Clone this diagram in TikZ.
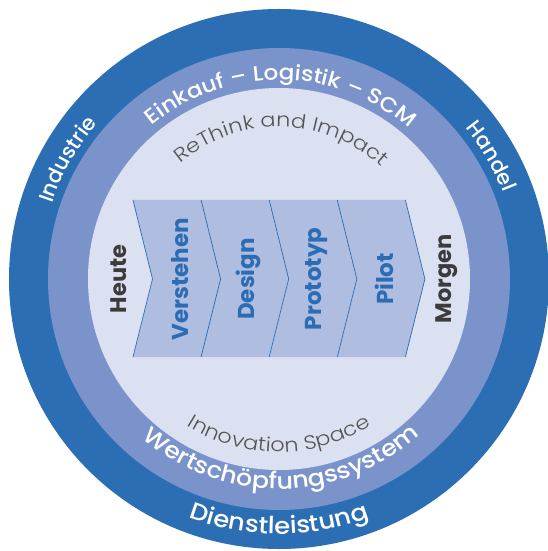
\documentclass[tikz,border=0pt]{standalone}
\usepackage{fontspec}
\setmainfont{Poppins}
\newfontfamily\plight{Poppins Light}[FakeStretch=1.15]
\newfontfamily\pmed{Poppins Medium}
\newfontfamily\pmedw{Poppins Medium}[FakeStretch=1.1]
\newfontfamily\pbold{Poppins Bold}
\usetikzlibrary{decorations.text}
\definecolor{outerblue}{HTML}{2B6EB4}
\definecolor{midblue}{HTML}{7B93CB}
\definecolor{innerblue}{HTML}{DCE1F1}
\definecolor{chevfill}{HTML}{AFBDE0}
\definecolor{textblue}{HTML}{2B6CB3}
\definecolor{labelgray}{HTML}{3B3B3B}
\definecolor{thingray}{HTML}{555555}
\tikzset{
  steplabel/.style={rotate=90, inner sep=0pt, text=textblue, font=\pbold\fontsize{23}{23}\selectfont},
  endlabel/.style={rotate=90, inner sep=0pt, text=labelgray, font=\pbold\fontsize{22.5}{22.5}\selectfont},
  edgeline/.style={textblue, line width=0.7pt},
  ringtext/.style={decorate, decoration={text along path, text align=center, text={#1}}}
}
\begin{document}
\begin{tikzpicture}[x=1pt,y=1pt]
\useasboundingbox (-279,-272) rectangle (268,279);
\fill[outerblue] (0,0) circle[radius=270pt];
\fill[midblue] (0,0) circle[radius=231pt];
\fill[innerblue] (0,0) circle[radius=191pt];
% chevrons
\fill[chevfill] (-146,79) -- (126.4,79) -- (145.9,0) -- (126.4,-78) -- (-146,-78) -- (-126.5,0) -- cycle;
\foreach \k in {0,...,4}{
  \pgfmathsetmacro{\e}{-146+68.1*\k}
  \draw[edgeline] (\e,79) -- (\e+19.5,0) -- (\e,-78);
}
\node[endlabel] (heute) at (-160.4,0) {Heute};
\node[steplabel] (verstehen) at (-99,0) {Verstehen};
\node[steplabel] (design) at (-31,0) {Design};
\node[steplabel] (prototyp) at (37.5,0) {Prototyp};
\node[steplabel] (pilot) at (105.5,0) {Pilot};
\node[endlabel] (morgen) at (167.6,0) {Morgen};
% curved texts
\path[ringtext={|\pmed\fontsize{21}{21}\selectfont\color{white}|Industrie}] (180:239) arc[start angle=180, end angle=121, radius=239pt];
\path[ringtext={|\pmed\fontsize{21}{21}\selectfont\color{white}|Handel}] (60:240) arc[start angle=60, end angle=0, radius=240pt];
\path[ringtext={|\pmedw\fontsize{21}{21}\selectfont\color{white}|Einkauf – Logistik – SCM}] (150:199) arc[start angle=150, end angle=29, radius=199pt];
\path[ringtext={|\plight\fontsize{19.5}{19.5}\selectfont\color{thingray}|ReThink and Impact}] (150:152) arc[start angle=150, end angle=28, radius=152pt];
\path[ringtext={|\plight\fontsize{19.5}{19.5}\selectfont\color{thingray}|Innovation Space}] (-150:173) arc[start angle=-150, end angle=-30, radius=173pt];
\path[ringtext={|\pmedw\fontsize{23}{23}\selectfont\color{white}|Wertschöpfungssystem}] (-150:210) arc[start angle=-150, end angle=-28.6, radius=210pt];
\path[ringtext={|\pmedw\fontsize{23.5}{23.5}\selectfont\color{white}|Dienstleistung}] (-140:255) arc[start angle=-140, end angle=-40, radius=255pt];
\end{tikzpicture}
\end{document}
